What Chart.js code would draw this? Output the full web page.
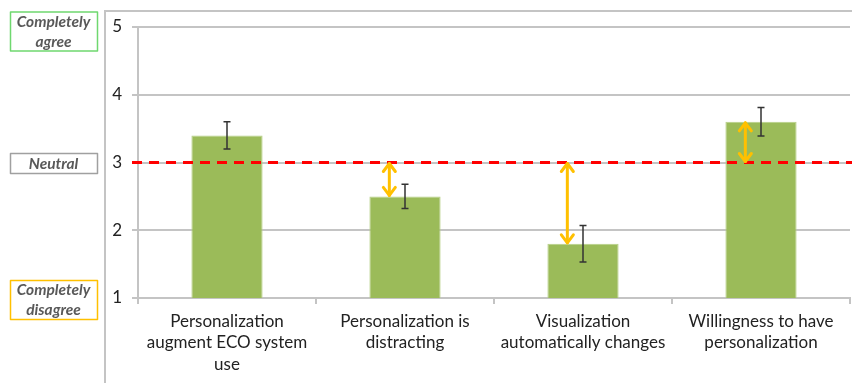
<!DOCTYPE html>
<html>
<head>
<meta charset="utf-8">
<script src="https://cdn.jsdelivr.net/npm/chart.js@4/dist/chart.umd.min.js"></script>
<style>
    html, body { margin: 0; padding: 0; background: #fff; }
    #wrap { position: relative; width: 852px; height: 383px; }
</style>
</head>
<body>
<div id="wrap"><canvas id="chart"></canvas></div>
<script>
// data
const categories = [
    ['Personalization', 'augment ECO system', 'use'],
    ['Personalization is', 'distracting'],
    ['Visualization', 'automatically changes'],
    ['Willingness to have', 'personalization']
];
const means = [3.4, 2.5, 1.8, 3.6];
const errors = [0.2, 0.18, 0.27, 0.21];
const showGap = [false, true, true, true];   // orange arrow from neutral to bar
const neutralValue = 3;
const yTicks = [1, 2, 3, 4, 5];
const scaleLabels = [['Completely', 'agree'], ['Neutral'], ['Completely', 'disagree']];
const scaleLabelValues = [5, 3, 1];
const scaleLabelColors = ['#6fd86f', '#a0a0a0', '#ffc000'];

const gridColor = '#c4c4c4';

function arrowHead(ctx, x, y, dir) {
    // dir = -1 points up, 1 points down
    ctx.beginPath();
    ctx.moveTo(x - 6, y - dir * 8);
    ctx.lineTo(x, y);
    ctx.lineTo(x + 6, y - dir * 8);
    ctx.stroke();
}

// custom drawing: frame, neutral line, error bars, arrows, side labels
const extrasPlugin = {
    id: 'extras',
    beforeDatasetsDraw(chart) {
        const ctx = chart.ctx;
        ctx.save();
        // outer frame lines
        ctx.strokeStyle = gridColor;
        ctx.lineWidth = 2;
        ctx.beginPath();
        ctx.moveTo(105, 383);
        ctx.lineTo(105, 11);
        ctx.lineTo(852, 11);
        ctx.stroke();
        ctx.restore();
    },
    afterDatasetsDraw(chart) {
        const ctx = chart.ctx;
        const y = chart.scales.y;
        const area = chart.chartArea;
        const meta = chart.getDatasetMeta(0);
        ctx.save();

        // neutral dashed line
        const ny = y.getPixelForValue(neutralValue);
        ctx.strokeStyle = '#ff0000';
        ctx.lineWidth = 3;
        ctx.setLineDash([10, 7]);
        ctx.beginPath();
        ctx.moveTo(area.left - 6, ny);
        ctx.lineTo(852, ny);
        ctx.stroke();
        ctx.setLineDash([]);

        // error bars
        ctx.strokeStyle = '#333';
        ctx.lineWidth = 1.5;
        meta.data.forEach((bar, i) => {
            const top = y.getPixelForValue(means[i] + errors[i]);
            const bot = y.getPixelForValue(means[i] - errors[i]);
            ctx.beginPath();
            ctx.moveTo(bar.x, top); ctx.lineTo(bar.x, bot);
            ctx.moveTo(bar.x - 3.5, top); ctx.lineTo(bar.x + 3.5, top);
            ctx.moveTo(bar.x - 3.5, bot); ctx.lineTo(bar.x + 3.5, bot);
            ctx.stroke();
        });

        // gap arrows
        ctx.strokeStyle = '#ffc000';
        ctx.lineWidth = 3;
        ctx.lineCap = 'round';
        ctx.lineJoin = 'round';
        meta.data.forEach((bar, i) => {
            if (!showGap[i]) return;
            const ax = bar.x - bar.width * 0.22;
            const by = y.getPixelForValue(means[i]);
            const top = Math.min(ny, by), bot = Math.max(ny, by);
            ctx.beginPath();
            ctx.moveTo(ax, top + 1); ctx.lineTo(ax, bot - 1);
            ctx.stroke();
            arrowHead(ctx, ax, top + 1, -1);
            arrowHead(ctx, ax, bot - 1, 1);
        });
        ctx.lineCap = 'butt';

        // side labels
        const offsets = [4.5, 1, 2];
        ctx.font = 'italic bold 15.5px Lato, "Open Sans", sans-serif';
        ctx.textAlign = 'center';
        ctx.textBaseline = 'middle';
        scaleLabels.forEach((lines, k) => {
            const cy = y.getPixelForValue(scaleLabelValues[k]) + offsets[k];
            const h = lines.length === 1 ? 20 : 39;
            ctx.strokeStyle = scaleLabelColors[k];
            ctx.lineWidth = 1.5;
            ctx.strokeRect(10.5, cy - h / 2, 87, h);
            ctx.fillStyle = '#595959';
            lines.forEach((t, j) => {
                ctx.fillText(t, 53.5, cy + (j - (lines.length - 1) / 2) * 20);
            });
        });
        ctx.restore();
    }
};

new Chart(document.getElementById('chart'), {
    type: 'bar',
    data: {
        labels: categories,
        datasets: [{
            data: means,
            backgroundColor: '#9bbb59',
            borderColor: '#b5cf85',
            borderWidth: 1,
            barPercentage: 0.4,
            categoryPercentage: 1
        }]
    },
    options: {
        responsive: true,
        maintainAspectRatio: false,
        animation: false,
        layout: { padding: { top: 27, right: 2, left: 0, bottom: 0 } },
        plugins: { legend: { display: false }, tooltip: { enabled: false } },
        scales: {
            x: {
                offset: true,
                afterFit(s) { s.height = 85; },
                grid: { display: true, drawOnChartArea: false, offset: true, tickLength: 6, color: gridColor, lineWidth: 2 },
                border: { display: true, color: gridColor, width: 2 },
                ticks: {
                    color: '#222',
                    padding: 7,
                    maxRotation: 0,
                    font: { family: 'Lato, "Open Sans", sans-serif', size: 17, lineHeight: 1.25 }
                }
            },
            y: {
                min: 1,
                max: 5,
                afterFit(s) { s.width = 138; },
                afterBuildTicks(s) { s.ticks = yTicks.map(v => ({ value: v })); },
                grid: { color: gridColor, lineWidth: 2, tickLength: 6 },
                border: { display: true, color: gridColor, width: 2 },
                ticks: {
                    color: '#222',
                    padding: 10,
                    font: { family: 'Lato, "Open Sans", sans-serif', size: 17 }
                }
            }
        }
    },
    plugins: [extrasPlugin]
});
</script>
</body>
</html>
